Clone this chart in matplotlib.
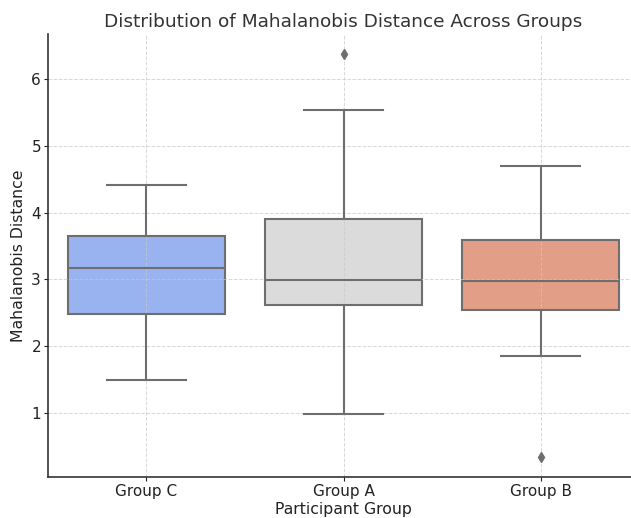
import matplotlib
matplotlib.use("Agg")
import matplotlib.pyplot as plt

groups = ["Group C", "Group A", "Group B"]
whislo = [1.49, 0.98, 1.85]
q1 = [2.48, 2.62, 2.54]
med = [3.17, 2.99, 2.98]
q3 = [3.65, 3.90, 3.59]
whishi = [4.41, 5.54, 4.70]
fliers = [[], [6.37], [0.34]]
colors = ["#98b3ef", "#dbdbdb", "#e29e87"]

fig = plt.figure(figsize=(6.31, 5.18), dpi=100)
ax = fig.add_axes([0.076, 0.079, 0.937, 0.855])

stats = []
for i, g in enumerate(groups):
    stats.append(dict(label=g, whislo=whislo[i], q1=q1[i], med=med[i],
                      q3=q3[i], whishi=whishi[i], fliers=fliers[i]))

lc = "#6e6e6e"
bp = ax.bxp(stats, positions=range(len(groups)), widths=0.8, patch_artist=True,
            boxprops=dict(edgecolor=lc, linewidth=1.5),
            medianprops=dict(color=lc, linewidth=1.5),
            whiskerprops=dict(color=lc, linewidth=1.5),
            capprops=dict(color=lc, linewidth=1.5),
            flierprops=dict(marker="d", markerfacecolor=lc, markeredgecolor=lc,
                            markersize=5),
            capwidths=0.4)
for patch, c in zip(bp["boxes"], colors):
    patch.set_facecolor(c)
    patch.set_zorder(1)

ax.set_xlim(-0.5, 2.5)
ax.set_ylim(0.04, 6.67)
ax.set_yticks([1, 2, 3, 4, 5, 6])
ax.set_xticks(range(len(groups)))
ax.set_xticklabels(groups)
ax.set_axisbelow("line")
ax.grid(True, linestyle="--", color="#c8c8c8", linewidth=0.7, alpha=0.7)
for s in ["top", "right"]:
    ax.spines[s].set_visible(False)
for s in ["left", "bottom"]:
    ax.spines[s].set_color("#333333")
    ax.spines[s].set_linewidth(1.2)
ax.tick_params(colors="#222222", labelsize=11, length=3, pad=2)

ax.set_title("Distribution of Mahalanobis Distance Across Groups",
             fontsize=13.3, color="#333333", pad=5)
ax.set_xlabel("Participant Group", fontsize=11.3, color="#222222", labelpad=2)
ax.set_ylabel("Mahalanobis Distance", fontsize=11.3, color="#222222", labelpad=4)

fig.savefig("out.png", dpi=100)
